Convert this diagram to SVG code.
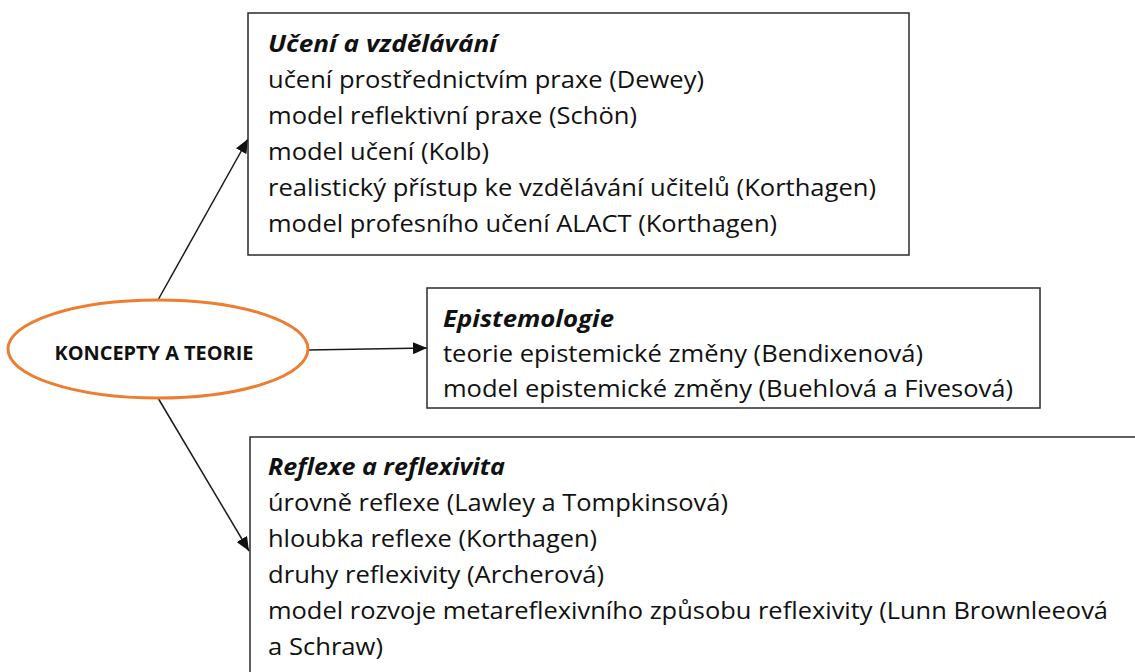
<svg xmlns="http://www.w3.org/2000/svg" width="1135" height="672" viewBox="0 0 1135 672">
  <style>
    .box { fill: #ffffff; stroke: #2b2b2b; stroke-width: 1.5; }
    .txt { font-family: "Open Sans", Lato, "Liberation Sans", sans-serif; font-size: 24px; fill: #111111; }
    .head { font-weight: bold; font-style: italic; }
    .conn { stroke: #1a1a1a; stroke-width: 1.5; fill: none; marker-end: url(#arrow); }
    .hub { fill: #ffffff; stroke: #ED7D31; stroke-width: 3; }
    .hubtxt { font-family: "Open Sans", Lato, "Liberation Sans", sans-serif; font-size: 19px; font-weight: bold; fill: #111111; }
  </style>
  <defs>
    <marker id="arrow" viewBox="0 0 14 12" refX="14" refY="6" markerWidth="14" markerHeight="12" markerUnits="userSpaceOnUse" orient="auto">
      <path d="M0,0 L14,6 L0,12 z" fill="#111111"/>
    </marker>
    <clipPath id="clipEpi">
      <rect x="427" y="288" width="613" height="120"/>
    </clipPath>
  </defs>

  <rect width="1135" height="672" fill="#ffffff"/>

  <!-- connectors -->
  <g id="connectors">
    <line class="conn" x1="158" y1="300" x2="248" y2="139"/>
    <line class="conn" x1="308" y1="350" x2="427" y2="348"/>
    <line class="conn" x1="158" y1="398" x2="249" y2="551"/>
  </g>

  <!-- central concept -->
  <g id="hub">
    <ellipse class="hub" cx="158" cy="349" rx="150" ry="49"/>
    <text class="hubtxt" x="154" y="360" text-anchor="middle" textLength="199" lengthAdjust="spacingAndGlyphs">KONCEPTY A TEORIE</text>
  </g>

  <!-- learning and education -->
  <g id="uceni">
    <rect class="box" x="248" y="13" width="661" height="242"/>
    <text class="txt head" x="268" y="52" textLength="229" lengthAdjust="spacingAndGlyphs">Učení a vzdělávání</text>
    <text class="txt" x="268" y="88" textLength="436" lengthAdjust="spacingAndGlyphs">učení prostřednictvím praxe (Dewey)</text>
    <text class="txt" x="268" y="124" textLength="369" lengthAdjust="spacingAndGlyphs">model reflektivní praxe (Schön)</text>
    <text class="txt" x="268" y="160" textLength="221" lengthAdjust="spacingAndGlyphs">model učení (Kolb)</text>
    <text class="txt" x="268" y="196" textLength="608" lengthAdjust="spacingAndGlyphs">realistický přístup ke vzdělávání učitelů (Korthagen)</text>
    <text class="txt" x="268" y="232" textLength="509" lengthAdjust="spacingAndGlyphs">model profesního učení ALACT (Korthagen)</text>
  </g>

  <!-- epistemology -->
  <g id="epistemologie">
    <rect class="box" x="427" y="288" width="613" height="120"/>
    <g clip-path="url(#clipEpi)">
      <text class="txt head" x="443" y="327" textLength="171" lengthAdjust="spacingAndGlyphs">Epistemologie</text>
      <text class="txt" x="443" y="362" textLength="480" lengthAdjust="spacingAndGlyphs">teorie epistemické změny (Bendixenová)</text>
      <text class="txt" x="443" y="397" textLength="570" lengthAdjust="spacingAndGlyphs">model epistemické změny (Buehlová a Fivesová)</text>
    </g>
  </g>

  <!-- reflection and reflexivity -->
  <g id="reflexe">
    <path class="box" d="M1135,437 L250,437 L250,672"/>
    <text class="txt head" x="268" y="475" textLength="237" lengthAdjust="spacingAndGlyphs">Reflexe a reflexivita</text>
    <text class="txt" x="268" y="511" textLength="460" lengthAdjust="spacingAndGlyphs">úrovně reflexe (Lawley a Tompkinsová)</text>
    <text class="txt" x="268" y="547" textLength="329" lengthAdjust="spacingAndGlyphs">hloubka reflexe (Korthagen)</text>
    <text class="txt" x="268" y="583" textLength="336" lengthAdjust="spacingAndGlyphs">druhy reflexivity (Archerová)</text>
    <text class="txt" x="268" y="619" textLength="840" lengthAdjust="spacingAndGlyphs">model rozvoje metareflexivního způsobu reflexivity (Lunn Brownleeová</text>
    <text class="txt" x="268" y="655" textLength="115" lengthAdjust="spacingAndGlyphs">a Schraw)</text>
  </g>
</svg>
